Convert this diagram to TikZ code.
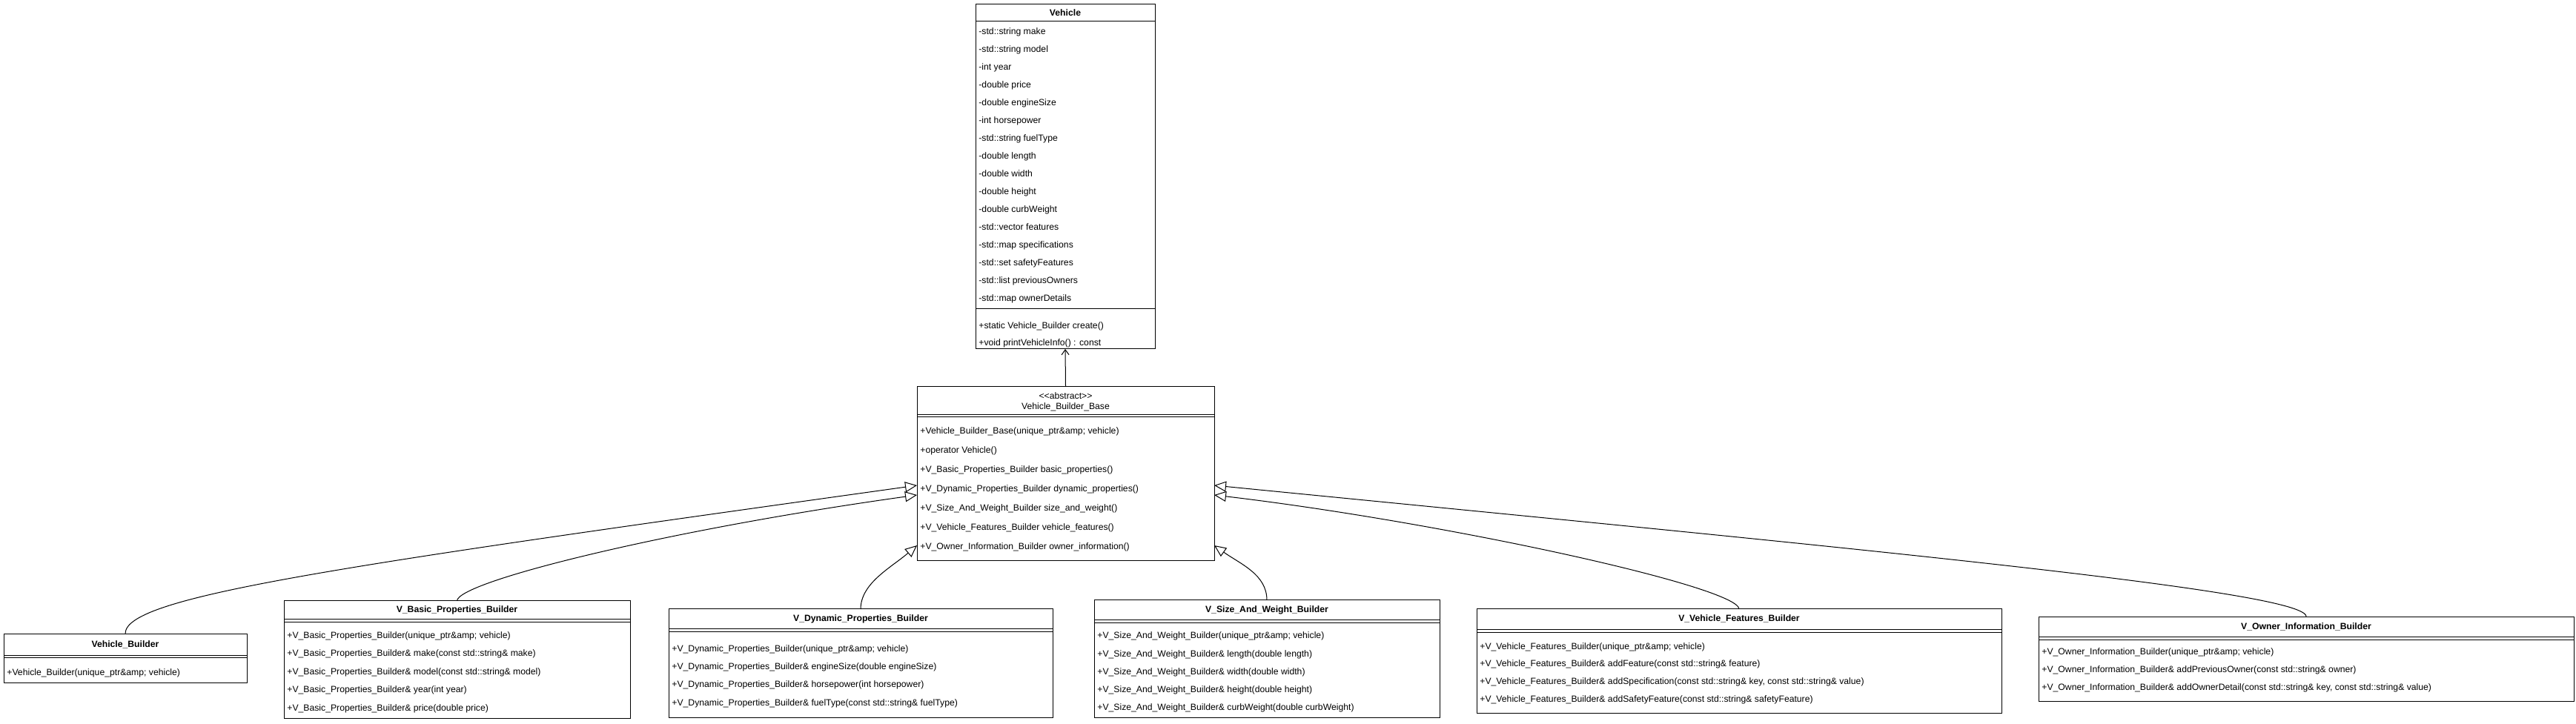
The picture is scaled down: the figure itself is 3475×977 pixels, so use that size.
\documentclass[tikz,border=0pt]{standalone}
\usepackage{fontspec}
\newfontfamily\umlfont{Liberation Sans}
\usetikzlibrary{arrows.meta,calc}

\tikzset{
  classbox/.style={draw, line width=0.5pt, anchor=north west, inner sep=0pt, outer sep=0pt},
  classname/.style={font=\umlfont\bfseries\fontsize{6.1}{7.2}\selectfont, inner sep=0pt, anchor=base},
  stereo/.style={font=\umlfont\fontsize{6.1}{7.2}\selectfont, inner sep=0pt, anchor=base},
  member/.style={font=\umlfont\fontsize{6.1}{7.2}\selectfont, inner sep=0pt, anchor=base west},
  divider/.style={line width=0.5pt},
  extends/.style={line width=0.5pt, -{Triangle[open, length=8pt, width=7pt]}},
  uses/.style={line width=0.5pt, -{Straight Barb[length=3.5pt, width=5pt]}}
}

\begin{document}
\begin{tikzpicture}[x=0.5pt, y=-0.5pt]

  \fill [white] (0,0) rectangle (3475,977);
  \useasboundingbox (0,0) rectangle (3475,977);

  %Vehicle
  \node [classbox, minimum width=121pt, minimum height=232.5pt] (vehicle) at (1316,6) {};
  \node [classname] (vehicle-name) at (1437,22) {Vehicle};
  \draw [divider] (vehicle.north west) ++(0,23) -- ++(242,0);
  \draw [divider] (vehicle.north west) ++(0,411) -- ++(242,0);
  \foreach \txt [count=\i from 0] in {-std::string make, -std::string model, -int year,
      -double price, -double engineSize, -int horsepower, -std::string fuelType,
      -double length, -double width, -double height, -double curbWeight,
      -std::vector features, -std::map specifications, -std::set safetyFeatures,
      -std::list previousOwners, -std::map ownerDetails}
    \node [member] (vehicle-a\i) at (1320,{47+24*\i}) {\txt};
  \foreach \txt [count=\i from 0] in {+static Vehicle\_Builder create(),
      +void printVehicleInfo() : const}
    \node [member] (vehicle-m\i) at (1320,{444+23*\i}) {\txt};

  %Vehicle_Builder_Base
  \node [classbox, minimum width=200.5pt, minimum height=117.5pt] (base) at (1237,522) {};
  \node [stereo] (base-stereo) at (1437.5,539) {<<abstract>>};
  \node [stereo] (base-name) at (1437.5,553) {Vehicle\_Builder\_Base};
  \draw [divider] (base.north west) ++(0,38) -- ++(401,0);
  \draw [divider] (base.north west) ++(0,41) -- ++(401,0);
  \foreach \txt [count=\i from 0] in {+Vehicle\_Builder\_Base(unique\_ptr\&amp; vehicle),
      +operator Vehicle(),
      +V\_Basic\_Properties\_Builder basic\_properties(),
      +V\_Dynamic\_Properties\_Builder dynamic\_properties(),
      +V\_Size\_And\_Weight\_Builder size\_and\_weight(),
      +V\_Vehicle\_Features\_Builder vehicle\_features(),
      +V\_Owner\_Information\_Builder owner\_information()}
    \node [member] (base-m\i) at (1241,{586+26*\i}) {\txt};

  %Vehicle_Builder
  \node [classbox, minimum width=164pt, minimum height=33pt] (vb) at (5,855) {};
  \node [classname] (vb-name) at (169,873) {Vehicle\_Builder};
  \draw [divider] (vb.north west) ++(0,29) -- ++(328,0);
  \draw [divider] (vb.north west) ++(0,32) -- ++(328,0);
  \node [member] (vb-m0) at (9,911) {+Vehicle\_Builder(unique\_ptr\&amp; vehicle)};

  %V_Basic_Properties_Builder
  \node [classbox, minimum width=233.5pt, minimum height=79pt] (basic) at (383,811) {};
  \node [classname] (basic-name) at (616.5,827) {V\_Basic\_Properties\_Builder};
  \draw [divider] (basic.north west) ++(0,24) -- ++(467,0);
  \draw [divider] (basic.north west) ++(0,28) -- ++(467,0);
  \foreach \txt [count=\i from 0] in {+V\_Basic\_Properties\_Builder(unique\_ptr\&amp; vehicle),
      +V\_Basic\_Properties\_Builder\& make(const std::string\& make),
      +V\_Basic\_Properties\_Builder\& model(const std::string\& model),
      +V\_Basic\_Properties\_Builder\& year(int year),
      +V\_Basic\_Properties\_Builder\& price(double price)}
    \node [member] (basic-m\i) at (387,{861+24.5*\i}) {\txt};

  %V_Dynamic_Properties_Builder
  \node [classbox, minimum width=259pt, minimum height=73pt] (dyn) at (902,822) {};
  \node [classname] (dyn-name) at (1161,838) {V\_Dynamic\_Properties\_Builder};
  \draw [divider] (dyn.north west) ++(0,26) -- ++(518,0);
  \draw [divider] (dyn.north west) ++(0,30) -- ++(518,0);
  \foreach \txt [count=\i from 0] in {+V\_Dynamic\_Properties\_Builder(unique\_ptr\&amp; vehicle),
      +V\_Dynamic\_Properties\_Builder\& engineSize(double engineSize),
      +V\_Dynamic\_Properties\_Builder\& horsepower(int horsepower),
      +V\_Dynamic\_Properties\_Builder\& fuelType(const std::string\& fuelType)}
    \node [member] (dyn-m\i) at (906,{879+24.4*\i}) {\txt};

  %V_Size_And_Weight_Builder
  \node [classbox, minimum width=233pt, minimum height=79pt] (size) at (1476,810) {};
  \node [classname] (size-name) at (1709,827) {V\_Size\_And\_Weight\_Builder};
  \draw [divider] (size.north west) ++(0,26) -- ++(466,0);
  \draw [divider] (size.north west) ++(0,30) -- ++(466,0);
  \foreach \txt [count=\i from 0] in {+V\_Size\_And\_Weight\_Builder(unique\_ptr\&amp; vehicle),
      +V\_Size\_And\_Weight\_Builder\& length(double length),
      +V\_Size\_And\_Weight\_Builder\& width(double width),
      +V\_Size\_And\_Weight\_Builder\& height(double height),
      +V\_Size\_And\_Weight\_Builder\& curbWeight(double curbWeight)}
    \node [member] (size-m\i) at (1480,{862+24*\i}) {\txt};

  %V_Vehicle_Features_Builder
  \node [classbox, minimum width=354pt, minimum height=70pt] (feat) at (1992,822) {};
  \node [classname] (feat-name) at (2346,838) {V\_Vehicle\_Features\_Builder};
  \draw [divider] (feat.north west) ++(0,27) -- ++(708,0);
  \draw [divider] (feat.north west) ++(0,31) -- ++(708,0);
  \foreach \txt [count=\i from 0] in {+V\_Vehicle\_Features\_Builder(unique\_ptr\&amp; vehicle),
      +V\_Vehicle\_Features\_Builder\& addFeature(const std::string\& feature),
      {+V\_Vehicle\_Features\_Builder\& addSpecification(const std::string\& key, const std::string\& value)},
      +V\_Vehicle\_Features\_Builder\& addSafetyFeature(const std::string\& safetyFeature)}
    \node [member] (feat-m\i) at (1996,{876+23.7*\i}) {\txt};

  %V_Owner_Information_Builder
  \node [classbox, minimum width=361pt, minimum height=57pt] (owner) at (2750,832) {};
  \node [classname] (owner-name) at (3111,849) {V\_Owner\_Information\_Builder};
  \draw [divider] (owner.north west) ++(0,27) -- ++(722,0);
  \draw [divider] (owner.north west) ++(0,31) -- ++(722,0);
  \foreach \txt [count=\i from 0] in {+V\_Owner\_Information\_Builder(unique\_ptr\&amp; vehicle),
      +V\_Owner\_Information\_Builder\& addPreviousOwner(const std::string\& owner),
      {+V\_Owner\_Information\_Builder\& addOwnerDetail(const std::string\& key, const std::string\& value)}}
    \node [member] (owner-m\i) at (2754,{884+23.5*\i}) {\txt};

  %Association to Vehicle
  \draw [uses] (base.north) -- (vehicle.south);

  %Inheritance, left side
  \draw [extends] (vb.north) .. controls +(0,-50) and +(-787,110) .. ($(base.north west)+(0,133)$);
  \draw [extends] (basic.north) .. controls +(0,-26) and +(-337,47) .. ($(base.north west)+(0,146)$);
  \draw [extends] (dyn.north) .. controls +(0,-35) and +(-35,30) .. ($(base.south west)+(0,-21)$);

  %Inheritance, right side
  \draw [extends] (size.north) .. controls +(0,-35) and +(35,25) .. ($(base.south east)+(0,-21)$);
  \draw [extends] (feat.north) .. controls +(0,-30) and +(312,37) .. ($(base.north east)+(0,146)$);
  \draw [extends] (owner.north) .. controls +(0,-35) and +(862,85) .. ($(base.north east)+(0,133)$);

\end{tikzpicture}
\end{document}
